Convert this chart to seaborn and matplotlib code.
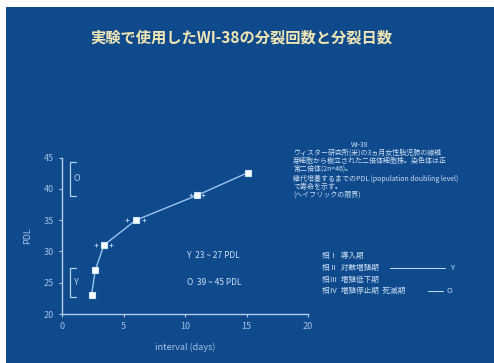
import matplotlib
matplotlib.use("Agg")
import matplotlib.pyplot as plt
import seaborn as sns
import pandas as pd
from matplotlib.patches import Rectangle

# Doubling interval (days) against population doubling level of WI-38
interval_days = [2.4, 2.7, 3.4, 6.0, 11.0, 15.1]
pdl = [23, 27, 31, 35, 39, 42.6]
interval_err = [0.0, 0.0, 0.6, 0.7, 0.5, 0.0]

x_ticks = [0, 5, 10, 15, 20]
y_ticks = [20, 25, 30, 35, 40, 45]

# Young (Y) and old (O) cell ranges
range_names = ["Y", "O"]
range_lo = [23, 39]
range_hi = [27, 45]
bracket_lo = [22.7, 38.9]
bracket_hi = [27.3, 44.3]

title = "実験で使用したWI-38の分裂回数と分裂日数"
note_title = "WI-38"
note_lines = [
    "ウィスター研究所(米)の3ヵ月女性胎児肺の線維",
    "芽細胞から樹立された二倍体細胞株。染色体は正",
    "常二倍体(2n=46)。",
    "継代培養するまでのPDL (population doubling level)",
    "で寿命を示す。",
    "(ヘイフリックの限界)",
]
phase_lines = ["相Ⅰ  導入期", "相Ⅱ  対数増殖期", "相Ⅲ  増殖低下期", "相Ⅳ  増殖停止期  死滅期"]

BG = "#0f4a8c"
AX = "#b4cdee"
TXT = "#cfe0f5"

sns.set_theme(style="ticks")
plt.rcParams["font.family"] = ["Noto Sans CJK JP", "DejaVu Sans"]

fig = plt.figure(figsize=(4.94, 3.63), dpi=100, facecolor="white")
fig.patches.append(Rectangle((6 / 494, 0), 1, 1 - 7 / 363, transform=fig.transFigure,
                             facecolor=BG, edgecolor="none", zorder=-10))

ax = fig.add_axes([62 / 494, 1 - 314 / 363, 246 / 494, 156.3 / 363])
ax.set_facecolor("none")
ax.set_zorder(2)

df = pd.DataFrame({"interval": interval_days, "PDL": pdl})
sns.lineplot(data=df, x="interval", y="PDL", ax=ax, color="#9cc4ee", linewidth=1.0,
             marker="s", markersize=5, markerfacecolor="white",
             markeredgecolor="#cfe4ff", markeredgewidth=0.8, sort=False)

# interval spread shown as faint tips either side of each point
tips_x = [x - e for x, e in zip(interval_days, interval_err) if e > 0] + \
         [x + e for x, e in zip(interval_days, interval_err) if e > 0]
tips_y = [y for y, e in zip(pdl, interval_err) if e > 0] * 2
ax.scatter(tips_x, tips_y, marker="+", s=9, color="#b8d0ee", linewidths=0.6, zorder=3)

ax.set_xlim(0, 20)
ax.set_ylim(20, 45)
ax.set_xticks(x_ticks)
ax.set_yticks(y_ticks)
ax.tick_params(colors=AX, labelsize=6.5, length=2, width=0.8, pad=4)
for lab in ax.get_xticklabels() + ax.get_yticklabels():
    lab.set_color("#a4c0e4")
for s in ["top", "right"]:
    ax.spines[s].set_visible(False)
for s in ["left", "bottom"]:
    ax.spines[s].set_color(AX)
    ax.spines[s].set_linewidth(1.0)
ax.set_xlabel("interval (days)", color="#a9c4e6", fontsize=6.5, labelpad=8)
ax.set_ylabel("PDL", color="#a9c4e6", fontsize=6.5, labelpad=8)

# brackets marking young and old populations
for name, lo, hi in zip(range_names, bracket_lo, bracket_hi):
    ax.plot([1.1, 0.65, 0.65, 1.1], [lo, lo, hi, hi], color=AX, lw=0.9,
            clip_on=False)
    ax.text(0.95, (lo + hi) / 2, name, color=AX, fontsize=6.5,
            va="center", ha="left")

for i, (name, lo, hi) in enumerate(zip(range_names, range_lo, range_hi)):
    ax.text(10.2, 29.4 - 4.3 * i, f"{name}  {lo} ~ {hi} PDL", color=TXT,
            fontsize=6, va="center", ha="left")

fig.text(241 / 494, 1 - 37 / 363, title, color="#f2e6b4", fontsize=11,
         fontweight="bold", ha="center", va="center")

fig.text(360 / 494, 1 - 145 / 363, note_title, color=TXT, fontsize=4.8,
         ha="center", va="center")
for yy, line in zip([153, 161, 169, 179, 187, 195], note_lines):
    fig.text(293 / 494, 1 - yy / 363, line, color=TXT, fontsize=5.0,
             ha="left", va="center")

for yy, line in zip([256, 268, 280, 291], phase_lines):
    fig.text(322 / 494, 1 - yy / 363, line, color=TXT, fontsize=5.5,
             ha="left", va="center")
fig.add_artist(plt.Line2D([390 / 494, 445 / 494], [1 - 268 / 363] * 2,
                          color=TXT, lw=0.7))
fig.text(452 / 494, 1 - 268 / 363, "Y", color=TXT, fontsize=5.5, ha="center", va="center")
fig.add_artist(plt.Line2D([428 / 494, 443 / 494], [1 - 291 / 363] * 2,
                          color=TXT, lw=0.7))
fig.text(449 / 494, 1 - 291 / 363, "O", color=TXT, fontsize=5.5, ha="center", va="center")

fig.savefig("out.png", dpi=100, facecolor="white")
